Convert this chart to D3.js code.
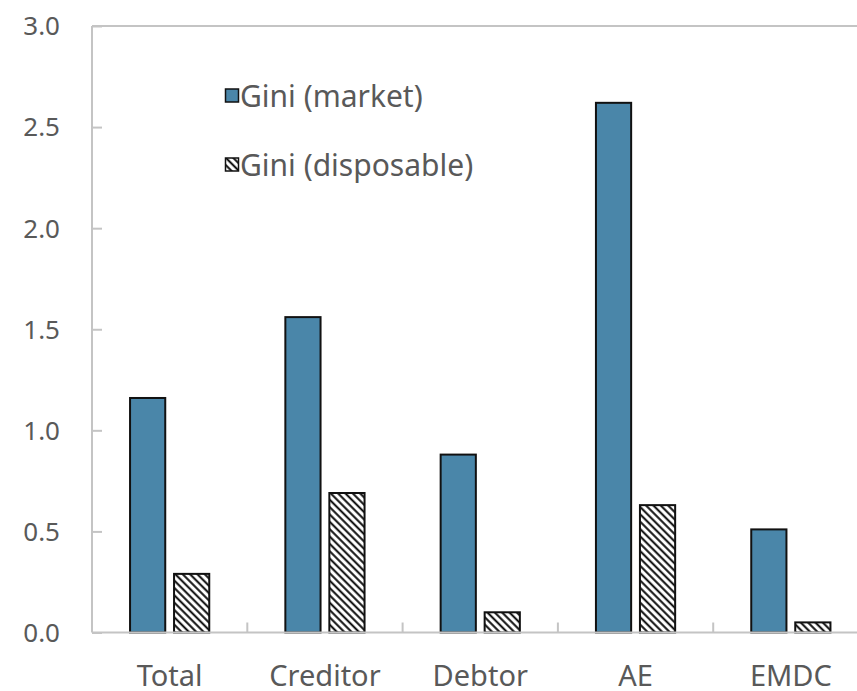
<!DOCTYPE html>
<html>
<head>
<meta charset="utf-8">
<script src="https://cdn.jsdelivr.net/npm/d3@7"></script>
<style>
  html, body { margin: 0; padding: 0; background: #fff; }
  svg { display: block; }
  text { font-family: "Noto Sans", "Open Sans", sans-serif; fill: #595959; }
</style>
</head>
<body>
<svg id="chart" width="857" height="691"></svg>
<script>
// Gini impact by country group
const categories = ["Total", "Creditor", "Debtor", "AE", "EMDC"];
const seriesNames = ["Gini (market)", "Gini (disposable)"];
const giniMarket = [1.16, 1.56, 0.88, 2.62, 0.51];
const giniDisposable = [0.29, 0.69, 0.10, 0.63, 0.05];
const yTicks = [0, 0.5, 1.0, 1.5, 2.0, 2.5, 3.0];

(function () {
  const svg = d3.select("#chart");
  const W = 857;
  const mLeft = 92, mTop = 26, mBottom = 632.5, mRight = 868.5;

  const x = d3.scaleBand().domain(categories).range([mLeft, mRight]).padding(0);
  const bw = x.bandwidth();
  const xInner = d3.scaleBand().domain(seriesNames)
    .range([bw * 0.245, bw * 0.755]).paddingInner(0.2);
  const y = d3.scaleLinear().domain([0, 3]).range([mBottom, mTop]);

  // hatch fill for disposable-income bars
  const defs = svg.append("defs");
  const pat = defs.append("pattern")
    .attr("id", "hatch")
    .attr("patternUnits", "userSpaceOnUse")
    .attr("width", 5.2).attr("height", 5.2)
    .attr("patternTransform", "rotate(-45)");
  pat.append("rect").attr("width", 5.2).attr("height", 5.2).attr("fill", "#fff");
  pat.append("line")
    .attr("x1", 1.3).attr("y1", 0).attr("x2", 1.3).attr("y2", 5.2)
    .attr("stroke", "#000").attr("stroke-width", 1.9);

  const fills = { "Gini (market)": "#4a86a9", "Gini (disposable)": "url(#hatch)" };
  const axisColor = "#c4c4c4";

  // frame: left and top lines
  svg.append("line").attr("x1", mLeft).attr("x2", mLeft).attr("y1", mTop).attr("y2", mBottom)
    .attr("stroke", axisColor).attr("stroke-width", 2);
  svg.append("line").attr("x1", mLeft).attr("x2", W).attr("y1", mTop).attr("y2", mTop)
    .attr("stroke", axisColor).attr("stroke-width", 2);

  // y axis: inward ticks, labels on the left
  const yAxis = d3.axisRight(y).tickValues(yTicks).tickSize(10).tickFormat(d3.format(".1f"));
  const gy = svg.append("g").attr("transform", `translate(${mLeft},0)`).call(yAxis);
  gy.select(".domain").remove();
  gy.selectAll(".tick line").attr("stroke", axisColor).attr("stroke-width", 2);
  gy.selectAll(".tick text")
    .attr("x", -32).attr("text-anchor", "end").attr("dy", "0.34em")
    .style("font-size", "26px").style("fill", "#595959")
    .style("font-family", "'Noto Sans', sans-serif");

  // bars
  const rows = categories.map((c, i) => ({ cat: c, vals: [
    { s: seriesNames[0], v: giniMarket[i] },
    { s: seriesNames[1], v: giniDisposable[i] }
  ]}));

  const groups = svg.append("g").selectAll("g").data(rows).join("g")
    .attr("transform", d => `translate(${x(d.cat)},0)`);
  groups.selectAll("rect").data(d => d.vals).join("rect")
    .attr("x", d => xInner(d.s))
    .attr("width", xInner.bandwidth())
    .attr("y", d => y(d.v))
    .attr("height", d => y(0) - y(d.v))
    .attr("fill", d => fills[d.s])
    .attr("stroke", "#111")
    .attr("stroke-width", 2);

  // x axis: baseline, ticks between categories pointing up
  svg.append("line").attr("x1", mLeft).attr("x2", W).attr("y1", mBottom).attr("y2", mBottom)
    .attr("stroke", axisColor).attr("stroke-width", 2);
  const gx = svg.append("g");
  gx.selectAll("line").data(categories.slice(1)).join("line")
    .attr("x1", d => x(d)).attr("x2", d => x(d))
    .attr("y1", mBottom).attr("y2", mBottom - 10)
    .attr("stroke", axisColor).attr("stroke-width", 2);
  gx.selectAll("text").data(categories).join("text")
    .attr("x", d => x(d) + bw / 2)
    .attr("y", 686)
    .attr("text-anchor", "middle")
    .style("font-size", "29px")
    .text(d => d);

  // legend
  const legend = svg.append("g");
  const legendRows = [
    { s: seriesNames[0], y: 96 },
    { s: seriesNames[1], y: 165 }
  ];
  legend.selectAll("rect").data(legendRows).join("rect")
    .attr("x", 225.5).attr("y", d => d.y - 7)
    .attr("width", 13).attr("height", 13)
    .attr("fill", d => fills[d.s])
    .attr("stroke", "#111").attr("stroke-width", 1.5);
  legend.selectAll("text").data(legendRows).join("text")
    .attr("x", 240).attr("y", d => d.y).attr("dy", "0.35em")
    .style("font-size", "30px")
    .text(d => d.s);
})();
</script>
</body>
</html>
